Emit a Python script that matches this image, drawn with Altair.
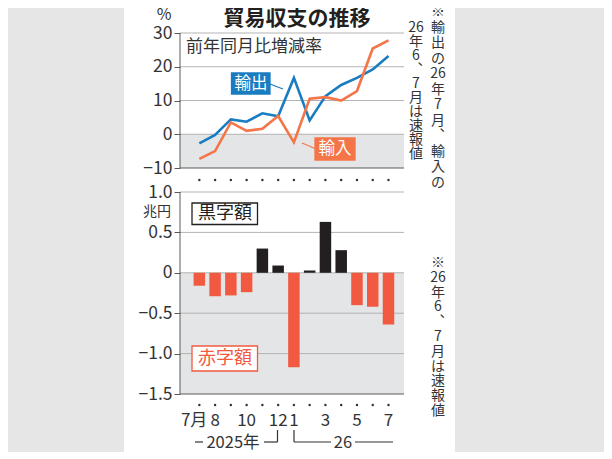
import altair as alt
import pandas as pd

# ---------------- data ----------------
months = list(range(13))  # 2025-07 ... 2026-07
month_labels = ["7月", "8", "", "10", "", "12", "1", "", "3", "", "5", "", "7"]
exports = [-2.7, -0.2, 4.4, 3.7, 6.2, 5.3, 16.7, 4.1, 11.3, 14.6, 16.7, 19.2, 23.2]
imports = [-7.3, -5.0, 3.5, 1.0, 1.6, 5.4, -2.4, 10.5, 11.0, 10.0, 12.8, 25.4, 27.8]
balance = [-0.16, -0.29, -0.28, -0.24, 0.30, 0.09, -1.17, 0.03, 0.63, 0.28, -0.40, -0.42, -0.64]
top_ticks = [30, 20, 10, 0, -10]
bot_ticks = [1.0, 0.5, 0, -0.5, -1.0, -1.5]

# ---------------- style ----------------
FONT = "Noto Sans CJK JP"
BLUE = "#1a7cc1"
ORANGE = "#f37548"
RED = "#f15a40"
BLACK = "#231f20"
SHADE = "#e4e5e6"
GRID = "#b3b3b3"
AXIS = "#5a5a5a"
OUTER = "#e6e6e6"
TXT = "#333333"

W, H = 224, 361
X0, Y0 = 180, 33
TOTAL_W, TOTAL_H = 596, 444


def px(x):
    return x - X0


def py(y):
    return y - Y0


xscale = alt.Scale(domain=[-15 / 16.5, 12 + 11 / 16.5], nice=False, zero=False)
ytop = alt.Scale(domain=[30 - H * 40 / 135, 30], nice=False, zero=False)
ybot = alt.Scale(domain=[-1.5, 1.0 + 159 * 2.5 / 202], nice=False, zero=False)

df = pd.DataFrame({"i": months, "label": month_labels, "exp": exports,
                   "imp": imports, "bal": balance})
df["sign"] = ["黒字" if b >= 0 else "赤字" for b in balance]
one = pd.DataFrame({"k": [0]})

X = alt.X("i:Q", scale=xscale, axis=None)


def axis(vals, fmt=None, expr=None):
    kw = dict(values=vals, orient="left", domain=False, grid=False, ticks=True,
              tickSize=6, tickColor=AXIS, tickWidth=1, labelFont=FONT,
              labelFontSize=17.5, labelColor=TXT, labelPadding=2, title=None,
              zindex=2, labelOverlap=False)
    if fmt:
        kw["format"] = fmt
    if expr:
        kw["labelExpr"] = expr
    return alt.Axis(**kw)


layers = []

# white panel
layers.append(alt.Chart(one).mark_rect(color="white").encode(
    x=alt.value(px(124)), x2=alt.value(px(455)), y=alt.value(-40), y2=alt.value(H + 100)))

# shaded negative areas
layers.append(alt.Chart(pd.DataFrame({"a": [0], "b": [-10]})).mark_rect(color=SHADE).encode(
    x=alt.value(0), x2=alt.value(W), y=alt.Y("a:Q", scale=ytop, axis=None), y2="b:Q"))
layers.append(alt.Chart(pd.DataFrame({"a": [0], "b": [-1.5]})).mark_rect(color=SHADE).encode(
    x=alt.value(0), x2=alt.value(W), y=alt.Y("a:Q", scale=ybot, axis=None), y2="b:Q"))

# gridlines + axes
layers.append(alt.Chart(pd.DataFrame({"v": [30, 20, 10, 0]})).mark_rule(color=GRID, strokeWidth=1).encode(
    x=alt.value(0), x2=alt.value(W), y=alt.Y("v:Q", scale=ytop, axis=axis(top_ticks))))
layers.append(alt.Chart(pd.DataFrame({"v": [1.0, 0.5, 0, -0.5, -1.0]})).mark_rule(color=GRID, strokeWidth=1).encode(
    x=alt.value(0), x2=alt.value(W),
    y=alt.Y("v:Q", scale=ybot, axis=axis(bot_ticks, fmt=".1f", expr="datum.value == 0 ? '0' : datum.label"))))
# base lines and vertical axis lines
layers.append(alt.Chart(pd.DataFrame({"v": [-10]})).mark_rule(color=AXIS, strokeWidth=1).encode(
    x=alt.value(0), x2=alt.value(W), y=alt.Y("v:Q", scale=ytop, axis=None)))
layers.append(alt.Chart(pd.DataFrame({"v": [-1.5]})).mark_rule(color=AXIS, strokeWidth=1).encode(
    x=alt.value(0), x2=alt.value(W), y=alt.Y("v:Q", scale=ybot, axis=None)))
layers.append(alt.Chart(pd.DataFrame({"a": [30], "b": [-10]})).mark_rule(color=AXIS, strokeWidth=1).encode(
    x=alt.value(0), y=alt.Y("a:Q", scale=ytop, axis=None), y2="b:Q"))
layers.append(alt.Chart(pd.DataFrame({"a": [1.0], "b": [-1.5]})).mark_rule(color=AXIS, strokeWidth=1).encode(
    x=alt.value(0), y=alt.Y("a:Q", scale=ybot, axis=None), y2="b:Q"))

# bars
layers.append(alt.Chart(df).mark_bar(width=11.5).encode(
    x=X, y=alt.Y("bal:Q", scale=ybot, axis=None), y2=alt.datum(0),
    color=alt.Color("sign:N", scale=alt.Scale(domain=["黒字", "赤字"], range=[BLACK, RED]), legend=None)))

# lines
layers.append(alt.Chart(df).mark_line(color=BLUE, strokeWidth=2.6).encode(
    x=X, y=alt.Y("exp:Q", scale=ytop, axis=None)))
layers.append(alt.Chart(df).mark_line(color=ORANGE, strokeWidth=2.6).encode(
    x=X, y=alt.Y("imp:Q", scale=ytop, axis=None)))

# dots under panels
for yy in (180, 405):
    layers.append(alt.Chart(df).mark_circle(size=6, color=TXT, opacity=1).encode(
        x=X, y=alt.value(py(yy))))

# month labels
lab = df[(df["label"] != "") & (df["i"] > 0)]
layers.append(alt.Chart(lab).mark_text(font=FONT, fontSize=17, color=TXT, baseline="middle").encode(
    x=X, y=alt.value(py(421)), text="label:N"))
layers.append(alt.Chart(df[df["i"] == 0]).mark_text(font=FONT, fontSize=17, color=TXT, baseline="middle",
                                                     align="right", dx=8).encode(
    x=X, y=alt.value(py(421)), text="label:N"))

# decoration segments (brackets and connectors), in plot pixels
segs = pd.DataFrame([
    (195, 442, 203, 442, TXT),
    (264, 442, 277.5, 442, TXT),
    (277.5, 430, 277.5, 442, TXT),
    (294, 430, 294, 442, TXT),
    (294, 442, 331, 442, TXT),
    (355, 442, 393, 442, TXT),
    (270, 84, 283, 89, BLUE),
    (302, 143, 315, 148.5, ORANGE),
], columns=["x1", "y1", "x2", "y2", "c"])
for c in ["x1", "x2"]:
    segs[c] = segs[c] - X0
for c in ["y1", "y2"]:
    segs[c] = segs[c] - Y0
layers.append(alt.Chart(segs).mark_rule(strokeWidth=1.2).encode(
    x=alt.X("x1:Q", scale=None, axis=None), x2="x2:Q",
    y=alt.Y("y1:Q", scale=None, axis=None), y2="y2:Q",
    color=alt.Color("c:N", scale=None)))

# label boxes
boxes = pd.DataFrame([
    (231.5, 73, 270, 94, BLUE, BLUE),
    (315, 138, 355, 160, ORANGE, ORANGE),
    (192, 203, 257.5, 224.5, "white", BLACK),
    (192, 346, 257.5, 371, "white", RED),
], columns=["x1", "y1", "x2", "y2", "f", "s"])
for c in ["x1", "x2"]:
    boxes[c] = boxes[c] - X0
for c in ["y1", "y2"]:
    boxes[c] = boxes[c] - Y0
layers.append(alt.Chart(boxes).mark_rect(strokeWidth=1.3).encode(
    x=alt.X("x1:Q", scale=None, axis=None), x2="x2:Q",
    y=alt.Y("y1:Q", scale=None, axis=None), y2="y2:Q",
    fill=alt.Fill("f:N", scale=None), stroke=alt.Stroke("s:N", scale=None)))


def txt(text, xp, yp, size, color=TXT, weight="normal", align="center", baseline="middle", lh=None):
    kw = dict(text=text, font=FONT, fontSize=size, color=color, fontWeight=weight,
              align=align, baseline=baseline)
    if lh:
        kw["lineHeight"] = lh
    return alt.Chart(one).mark_text(**kw).encode(x=alt.value(px(xp)), y=alt.value(py(yp)))


layers += [
    txt("貿易収支の推移", 297, 19, 21, BLACK, "bold"),
    txt("%", 164, 15, 16),
    txt("前年同月比増減率", 186, 46.5, 17, align="left"),
    txt("輸出", 251, 83.5, 16.5, "white"),
    txt("輸入", 335, 149, 16.5, "white"),
    txt("兆円", 157, 211.5, 14),
    txt("黒字額", 225, 213.8, 18, BLACK),
    txt("赤字額", 225, 358.5, 18, RED),
    txt("2025年", 233, 443, 16.5),
    txt("26", 343, 443, 16.5),
    txt(["※", "輸", "出", "の", "26", "年", "7", "月", "︑", "輸", "入", "の"], 438, 5, 14,
        baseline="top", lh=15.5),
    txt(["26", "年", "6", "︑", "7", "月", "は", "速", "報", "値"], 416, 20.5, 14,
        baseline="top", lh=14),
    txt(["※", "26", "年", "6", "︑", "7", "月", "は", "速", "報", "値"], 438, 256, 14,
        baseline="top", lh=14.8),
]

chart = alt.layer(*layers).resolve_scale(y="independent").resolve_axis(y="independent").properties(
    width=W, height=H,
    autosize=alt.AutoSizeParams(type="none"),
    padding={"left": X0 - 8, "top": Y0 - 8, "right": TOTAL_W - (X0 - 8) - W,
             "bottom": TOTAL_H - (Y0 - 8) - H},
    background=OUTER,
).configure_view(strokeWidth=0).configure(font=FONT)

chart.save("out.html", embed_options={"renderer": "svg", "actions": False})
